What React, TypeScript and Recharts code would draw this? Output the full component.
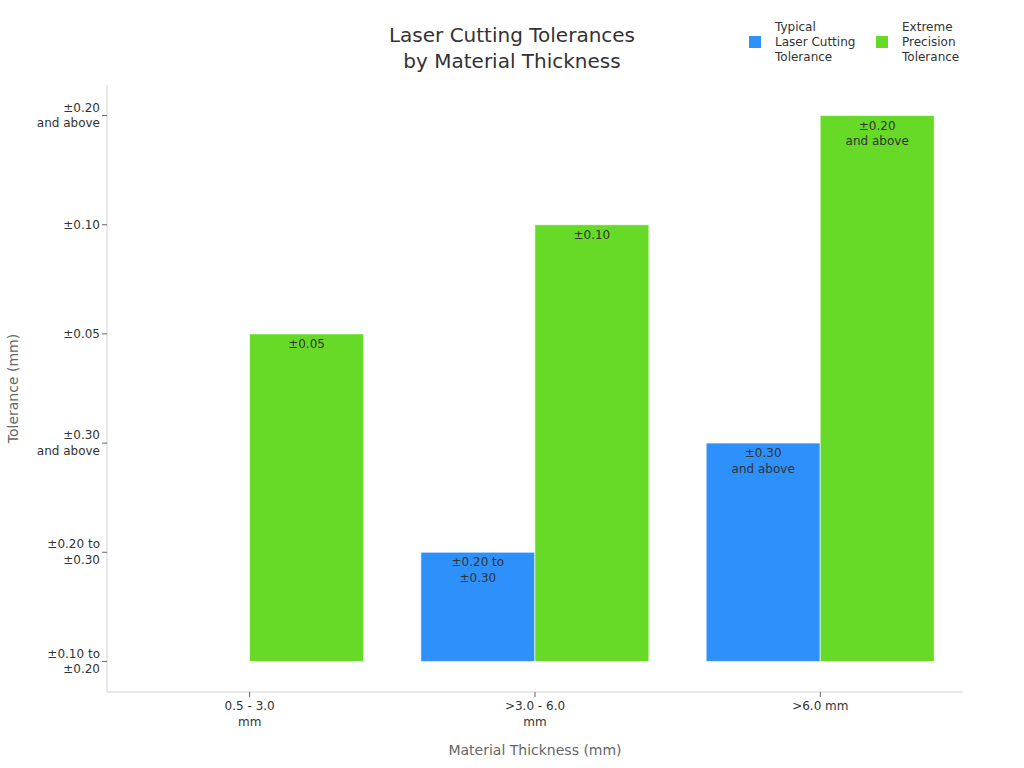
import React from 'react';
import { BarChart, Bar, XAxis, YAxis, LabelList, Label } from 'recharts';

const categories = ['0.5 - 3.0\nmm', '>3.0 - 6.0\nmm', '>6.0 mm'];
// ordinal tolerance levels, bottom to top of the y axis
const toleranceLevels = [
    '±0.10 to\n±0.20',
    '±0.20 to\n±0.30',
    '±0.30\nand above',
    '±0.05',
    '±0.10',
    '±0.20\nand above',
];
const typicalLevel = [0, 1, 2];
const extremeLevel = [3, 4, 5];

const BLUE = '#2e90fa';
const GREEN = '#66da26';
const FONT = '"DejaVu Sans", sans-serif';
const LINE = 15.6;

const chartData = categories.map((name, i) => ({
    name,
    typical: typicalLevel[i],
    extreme: extremeLevel[i],
}));

const legendItems = [
    { label: 'Typical\nLaser Cutting\nTolerance', color: BLUE, width: 127 },
    { label: 'Extreme\nPrecision\nTolerance', color: GREEN, width: 100 },
];

const YTick = (props: any) => {
    const { x, y, payload } = props;
    const lines = (toleranceLevels[payload.value] || '').split('\n');
    return (
        <g>
            {lines.map((l: string, i: number) => (
                <text
                    key={i}
                    x={x}
                    y={y + (i - (lines.length - 1) / 2) * LINE}
                    textAnchor="end"
                    dominantBaseline="central"
                    fill="#333"
                    fontSize={12}
                >
                    {l}
                </text>
            ))}
        </g>
    );
};

const XTick = (props: any) => {
    const { x, y, payload } = props;
    const lines = String(payload.value).split('\n');
    return (
        <g>
            {lines.map((l: string, i: number) => (
                <text
                    key={i}
                    x={x}
                    y={y + 7 + i * LINE}
                    textAnchor="middle"
                    dominantBaseline="central"
                    fill="#333"
                    fontSize={12}
                >
                    {l}
                </text>
            ))}
        </g>
    );
};

const renderBarLabel = (props: any) => {
    const { x, y, width, value } = props;
    if (!value) return null; // zero-height bar has no label
    const lines = toleranceLevels[value].split('\n');
    return (
        <g>
            {lines.map((l: string, i: number) => (
                <text
                    key={i}
                    x={x + width / 2}
                    y={y + 10 + i * LINE}
                    textAnchor="middle"
                    dominantBaseline="central"
                    fill="#333"
                    fontSize={12}
                >
                    {l}
                </text>
            ))}
        </g>
    );
};

export default function App() {
    return (
        <div style={{ position: 'absolute', left: 0, top: 0, width: 1024, height: 768, fontFamily: FONT, background: '#fff' }}>
            <div
                style={{
                    position: 'absolute',
                    left: 0,
                    width: 1024,
                    top: 22,
                    textAlign: 'center',
                    fontSize: 20,
                    lineHeight: '26px',
                    color: '#333',
                }}
            >
                Laser Cutting Tolerances
                <br />
                by Material Thickness
            </div>

            <div style={{ position: 'absolute', left: 749, top: 19.5, display: 'flex', fontSize: 12, color: '#333' }}>
                {legendItems.map((item) => (
                    <div key={item.label} style={{ display: 'flex', alignItems: 'center', width: item.width }}>
                        <div style={{ width: 12, height: 12, background: item.color, marginRight: 14, flexShrink: 0 }} />
                        <div style={{ lineHeight: '15px', whiteSpace: 'pre' }}>{item.label}</div>
                    </div>
                ))}
            </div>

            <BarChart
                width={1024}
                height={768}
                data={chartData}
                margin={{ top: 85, right: 61, left: 0, bottom: 0 }}
                barCategoryGap="10%"
                barGap={0}
                style={{ fontFamily: FONT }}
            >
                <XAxis
                    dataKey="name"
                    height={76}
                    tick={<XTick />}
                    tickSize={5}
                    axisLine={{ stroke: '#d3d3d3' }}
                    tickLine={{ stroke: '#666' }}
                >
                    <Label
                        content={(p: any) => (
                            <text
                                x={p.viewBox.x + p.viewBox.width / 2}
                                y={p.viewBox.y + 58}
                                textAnchor="middle"
                                dominantBaseline="central"
                                fill="#666"
                                fontSize={14}
                            >
                                Material Thickness (mm)
                            </text>
                        )}
                    />
                </XAxis>
                <YAxis
                    type="number"
                    width={107}
                    domain={[-0.28, 5.28]}
                    ticks={[0, 1, 2, 3, 4, 5]}
                    allowDataOverflow
                    tick={<YTick />}
                    tickSize={5}
                    axisLine={{ stroke: '#d3d3d3' }}
                    tickLine={{ stroke: '#666' }}
                >
                    <Label
                        content={(p: any) => {
                            const cx = p.viewBox.x + 13;
                            const cy = p.viewBox.y + p.viewBox.height / 2;
                            return (
                                <text
                                    x={cx}
                                    y={cy}
                                    transform={`rotate(-90, ${cx}, ${cy})`}
                                    textAnchor="middle"
                                    dominantBaseline="central"
                                    fill="#666"
                                    fontSize={14}
                                >
                                    Tolerance (mm)
                                </text>
                            );
                        }}
                    />
                </YAxis>
                <Bar dataKey="typical" fill={BLUE} stroke="#fff" strokeOpacity={0.6} isAnimationActive={false}>
                    <LabelList dataKey="typical" content={renderBarLabel} />
                </Bar>
                <Bar dataKey="extreme" fill={GREEN} stroke="#fff" strokeOpacity={0.6} isAnimationActive={false}>
                    <LabelList dataKey="extreme" content={renderBarLabel} />
                </Bar>
            </BarChart>
        </div>
    );
}
